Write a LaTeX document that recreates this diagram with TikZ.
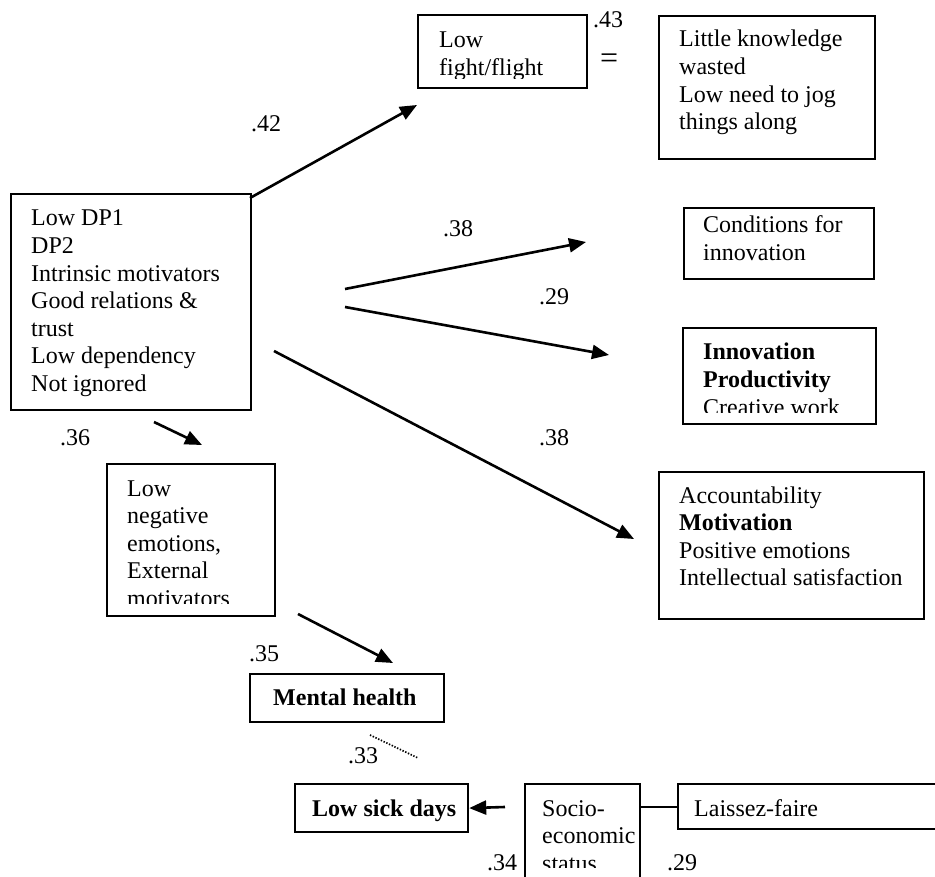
\documentclass[tikz,border=0pt]{standalone}
\usepackage{fontspec}
\setmainfont{Liberation Serif}
\usetikzlibrary{arrows.meta}
\newcommand{\lns}[1]{\begin{tabular}[t]{@{}l@{}}#1\end{tabular}}
\begin{document}
\begin{tikzpicture}[x=1pt,y=-1pt,
  box/.style={draw, line width=2.2pt, rectangle, inner sep=0pt, anchor=north west},
  arr/.style={line width=2.6pt, -{Triangle[length=17pt,width=14pt]}},
  txt/.style={anchor=base west, inner sep=0pt, font=\fontsize{24}{27.6}\selectfont},
]
\useasboundingbox (0,0) rectangle (935,877);
\clip (0,0) rectangle (935,877);
\fontsize{24}{27.6}\selectfont
% boxes
\node[box, minimum width=240pt, minimum height=216pt] (main) at (10,193) {};
\node[box, minimum width=169pt, minimum height=73pt] (fight) at (417,14) {};
\node[box, minimum width=216pt, minimum height=143pt] (little) at (658,15) {};
\node[box, minimum width=190pt, minimum height=71pt] (cond) at (683,207) {};
\node[box, minimum width=193pt, minimum height=96pt] (innov) at (682,327) {};
\node[box, minimum width=265pt, minimum height=147pt] (acct) at (658,471) {};
\node[box, minimum width=168pt, minimum height=152pt] (neg) at (106,463) {};
\node[box, minimum width=194pt, minimum height=48pt] (mental) at (249,673) {};
\node[box, minimum width=173pt, minimum height=48pt] (sick) at (294,783) {};
\node[box, minimum width=115pt, minimum height=117pt] (socio) at (524,783) {};
\node[box, minimum width=268pt, minimum height=45pt] (laissez) at (677,783) {};
% texts
\node[txt] (tmain) at (31,226) {\lns{Low DP1\\DP2\\Intrinsic motivators\\Good relations \&\\trust\\Low dependency\\Not ignored}};
\begin{scope}
  \clip (418,15) rectangle (585,79);
  \node[txt] (tfight) at (439,47.5) {\lns{Low\\fight/flight}};
\end{scope}
\node[txt] (tlittle) at (679,47) {\lns{Little knowledge\\wasted\\Low need to jog\\things along}};
\node[txt] (tcond) at (703,232.5) {\lns{Conditions for\\innovation}};
\begin{scope}
  \clip (683,328) rectangle (874,412.5);
  \node[txt] (tinnov) at (703,360) {\lns{\textbf{Innovation}\\\textbf{Productivity}\\Creative work}};
\end{scope}
\node[txt] (tacct) at (679,503) {\lns{Accountability\\\textbf{Motivation}\\Positive emotions\\Intellectual satisfaction}};
\begin{scope}
  \clip (107,464) rectangle (273,603.5);
  \node[txt] (tneg) at (127,496) {\lns{Low\\negative\\emotions,\\External\\motivators}};
\end{scope}
\node[txt] (tmental) at (273,705) {\textbf{Mental health}};
\node[txt] (tsick) at (312,816) {\textbf{Low sick days}};
\begin{scope}
  \clip (525,784) rectangle (638,867);
  \node[txt] (tsocio) at (542,816) {\lns{Socio-\\economic\\status}};
\end{scope}
\node[txt] (tlaissez) at (694,816) {Laissez-faire};
% labels
\node[txt] (l42) at (251,132) {.42};
\node[txt] (l43) at (593,28) {.43};
\node[txt, font=\fontsize{32}{36}\selectfont] (leq) at (600,69) {=};
\node[txt] (l38a) at (443,237) {.38};
\node[txt] (l29a) at (539,305) {.29};
\node[txt] (l38b) at (539,446) {.38};
\node[txt] (l36) at (60,446) {.36};
\node[txt] (l35) at (249,661) {.35};
\node[txt] (l33) at (348,763) {.33};
\node[txt] (l34) at (487,870) {.34};
\node[txt] (l29b) at (667,870) {.29};
% connector end points
\coordinate (a42s) at (250,198);
\coordinate (a42e) at (417,105);
\coordinate (a38s) at (345,289);
\coordinate (a38e) at (586,242);
\coordinate (a29s) at (345,307);
\coordinate (a29e) at (609,355);
\coordinate (a38bs) at (274,351);
\coordinate (a38be) at (634,539);
\coordinate (a36s) at (154,422);
\coordinate (a36e) at (202,445);
\coordinate (a35s) at (298,614);
\coordinate (a35e) at (393,663);
\coordinate (ds) at (370,735);
\coordinate (de) at (418,758);
\coordinate (sks) at (505,807);
% connectors
\draw[arr] (a42s) -- (a42e);
\draw[arr] (a38s) -- (a38e);
\draw[arr] (a29s) -- (a29e);
\draw[arr] (a38bs) -- (a38be);
\draw[arr] (a36s) -- (a36e);
\draw[arr] (a35s) -- (a35e);
\draw[line width=1.7pt, dash pattern=on 1.4pt off 1.6pt] (ds) -- (de);
\draw[arr] (sks) -- (sick.east);
\draw[line width=2.2pt] (socio.east |- laissez.west) -- (laissez.west);
\end{tikzpicture}
\end{document}
